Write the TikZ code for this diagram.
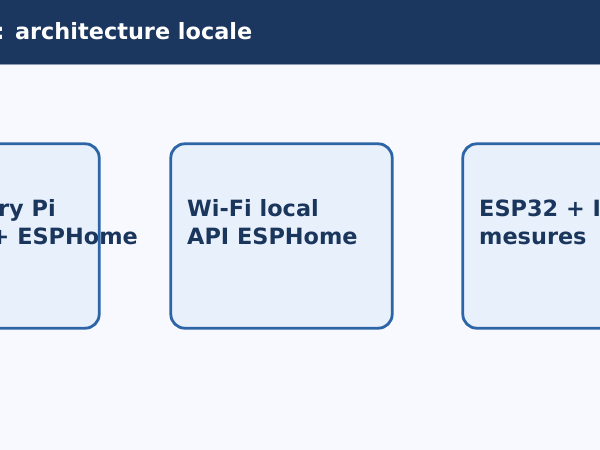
\documentclass[tikz,border=0pt]{standalone}
\usepackage{fontspec}
\setmainfont{DejaVu Sans}
\definecolor{pagebg}{HTML}{F8F9FE}
\definecolor{barbg}{HTML}{1B365F}
\definecolor{barline}{HTML}{8D9BB6}
\definecolor{boxfill}{HTML}{E8F0FB}
\definecolor{boxline}{HTML}{2C65A7}
\definecolor{ink}{HTML}{1A365D}
\tikzset{
  boxbg/.style={fill=boxfill, draw=none, rounded corners=14pt, minimum width=221pt, minimum height=184pt, inner sep=0pt},
  boxedge/.style={draw=boxline, line width=2.8pt, rounded corners=14pt},
  lbl/.style={font=\fontsize{22.4}{28}\selectfont\bfseries, text=ink, inner sep=0pt, anchor=base west},
  ttl/.style={font=\fontsize{22.4}{28}\selectfont\bfseries, text=white, inner sep=0pt, anchor=base west}
}
\begin{document}
\begin{tikzpicture}[x=1pt,y=-1pt]
\useasboundingbox (0,0) rectangle (600,450);
\clip (0,0) rectangle (600,450);
\fill[pagebg] (0,0) rectangle (600,450);
\fill[barbg] (0,0) rectangle (600,64);
\draw[barline, line width=1pt] (0,64) -- (600,64);
\node[ttl] (title) at (-4.5,39.5) {: architecture locale};
% boxes
\node[boxbg] (b1) at (-11.5,236) {};
\node[boxbg] (b2) at (281.5,236) {};
\node[boxbg] (b3) at (573.5,236) {};
% texts
\node[lbl] (t1a) at (-106,216) {Raspberry Pi};
\node[lbl, anchor=base east] (t1b) at (138,244) {+ ESPHome};
\node[lbl] (t2a) at (187,216) {Wi-Fi local};
\node[lbl] (t2b) at (187,244) {API ESPHome};
\node[lbl] (t3a) at (479,216) {ESP32 + I};
\node[lbl] (t3b) at (479,244) {mesures};
% borders
\draw[boxedge] (b1.north west) rectangle (b1.south east);
\draw[boxedge] (b2.north west) rectangle (b2.south east);
\draw[boxedge] (b3.north west) rectangle (b3.south east);
\end{tikzpicture}
\end{document}
